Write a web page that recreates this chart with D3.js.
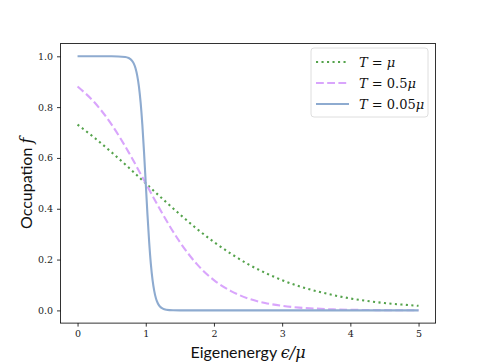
<!DOCTYPE html>
<html>
<head>
<meta charset="utf-8">
<script src="https://cdn.jsdelivr.net/npm/d3@7"></script>
<style>
  body { margin: 0; background: #fff; }
  .tick text { font-family: "DejaVu Serif", serif; font-size: 9.5px; fill: #222; }
  .lab { font-family: "Lato", "DejaVu Sans", sans-serif; font-size: 16px; fill: #111; }
  .math { font-family: "DejaVu Serif", serif; font-style: italic; }
  .leg { font-family: "DejaVu Serif", serif; font-size: 13px; fill: #111; }
</style>
</head>
<body>
<div id="chart"></div>
<script>
// energies (in units of mu) and occupations
var epsCoarse = [0, 0.25, 0.5, 0.75, 1, 1.25, 1.5, 1.75, 2, 2.25, 2.5, 2.75, 3, 3.25, 3.5, 3.75, 4, 4.25, 4.5, 4.75, 5];
var occT1   = [0.731, 0.679, 0.622, 0.562, 0.5, 0.438, 0.378, 0.321, 0.269, 0.223, 0.182, 0.148, 0.119, 0.095, 0.076, 0.060, 0.047, 0.037, 0.029, 0.023, 0.018];
var occT05  = [0.881, 0.818, 0.731, 0.622, 0.5, 0.378, 0.269, 0.182, 0.119, 0.076, 0.047, 0.029, 0.018, 0.011, 0.007, 0.004, 0.0025, 0.0015, 0.0009, 0.0006, 0.0003];

var epsFine = [0, 0.5, 0.7, 0.75, 0.775, 0.8, 0.825, 0.85, 0.875, 0.9, 0.925, 0.95, 0.975, 1, 1.025, 1.05, 1.075, 1.1, 1.125, 1.15, 1.175, 1.2, 1.25, 1.3, 1.4, 1.5, 2, 3, 4, 5];
var occT005 = [1, 1, 0.9975, 0.9933, 0.989, 0.982, 0.971, 0.953, 0.924, 0.881, 0.818, 0.731, 0.622, 0.5, 0.378, 0.269, 0.182, 0.119, 0.076, 0.047, 0.029, 0.018, 0.0067, 0.0025, 0.0003, 0, 0, 0, 0, 0];

var xTicks = [0, 1, 2, 3, 4, 5];
var yTicks = [0, 0.2, 0.4, 0.6, 0.8, 1.0];

var seriesNames = ["T = \u03bc", "T = 0.5\u03bc", "T = 0.05\u03bc"];

var W = 484, H = 363;
var margin = {top: 43.6, right: 48.4, bottom: 39.9, left: 60.5},
    width = W - margin.left - margin.right,
    height = H - margin.top - margin.bottom;

var svg = d3.select("#chart").append("svg")
    .attr("width", W)
    .attr("height", H);

var g = svg.append("g")
    .attr("transform", "translate(" + margin.left + "," + margin.top + ")");

var x = d3.scaleLinear().domain([-0.25, 5.25]).range([0, width]);
var y = d3.scaleLinear().domain([-0.05, 1.05]).range([height, 0]);

var series = [
    {name: seriesNames[0], xs: epsCoarse, ys: occT1,   color: "#55a34c", dash: "2.1,3.4"},
    {name: seriesNames[1], xs: epsCoarse, ys: occT05,  color: "#d9a5fc", dash: "7.8,3.4"},
    {name: seriesNames[2], xs: epsFine,   ys: occT005, color: "#8eabd0", dash: null}
];

var line = d3.line()
    .x(function(d) { return x(d[0]); })
    .y(function(d) { return y(d[1]); })
    .curve(d3.curveMonotoneX);

series.forEach(function(s) {
    var pts = s.xs.map(function(v, i) { return [v, s.ys[i]]; });
    g.append("path")
        .datum(pts)
        .attr("fill", "none")
        .attr("stroke", s.color)
        .attr("stroke-width", 2.1)
        .attr("stroke-dasharray", s.dash)
        .attr("d", line);
});

// axes
var xAxis = d3.axisBottom(x).tickValues(xTicks).tickFormat(d3.format("d")).tickSizeOuter(0).tickSize(3.5).tickPadding(4);
var yAxis = d3.axisLeft(y).tickValues(yTicks).tickFormat(d3.format(".1f")).tickSizeOuter(0).tickSize(3.5).tickPadding(4);

var gx = g.append("g").attr("transform", "translate(0," + height + ")").call(xAxis);
var gy = g.append("g").call(yAxis);
[gx, gy].forEach(function(a) {
    a.select(".domain").remove();
    a.selectAll(".tick line").attr("stroke", "#000").attr("stroke-width", 0.8);
});

g.append("rect")
    .attr("width", width)
    .attr("height", height)
    .attr("fill", "none")
    .attr("stroke", "#000")
    .attr("stroke-width", 0.8);

// axis labels
var xl = svg.append("text").attr("class", "lab")
    .attr("x", margin.left + width / 2)
    .attr("y", 358)
    .attr("text-anchor", "middle");
xl.append("tspan").text("Eigenenergy ");
xl.append("tspan").attr("class", "math").text("\u03f5/\u03bc");

var yl = svg.append("text").attr("class", "lab")
    .attr("transform", "translate(32," + (margin.top + height / 2) + ") rotate(-90)")
    .attr("text-anchor", "middle");
yl.append("tspan").text("Occupation ");
yl.append("tspan").attr("class", "math").text("f");

// legend
var leg = svg.append("g").attr("transform", "translate(311,48)");
leg.append("rect")
    .attr("width", 117)
    .attr("height", 69)
    .attr("rx", 3)
    .attr("fill", "#fff")
    .attr("fill-opacity", 0.8)
    .attr("stroke", "#d6d6d6")
    .attr("stroke-width", 0.8);

series.forEach(function(s, i) {
    var yy = 14 + i * 21;
    leg.append("line")
        .attr("x1", 5).attr("x2", 38)
        .attr("y1", yy).attr("y2", yy)
        .attr("stroke", s.color)
        .attr("stroke-width", 2.1)
        .attr("stroke-dasharray", s.dash);
    var t = leg.append("text").attr("class", "leg")
        .attr("x", 48).attr("y", yy + 4.5);
    var parts = s.name.split(" = ");
    t.append("tspan").attr("font-style", "italic").text("T");
    t.append("tspan").text(" = " + parts[1].replace("\u03bc", ""));
    t.append("tspan").attr("font-style", "italic").text("\u03bc");
});
</script>
</body>
</html>
